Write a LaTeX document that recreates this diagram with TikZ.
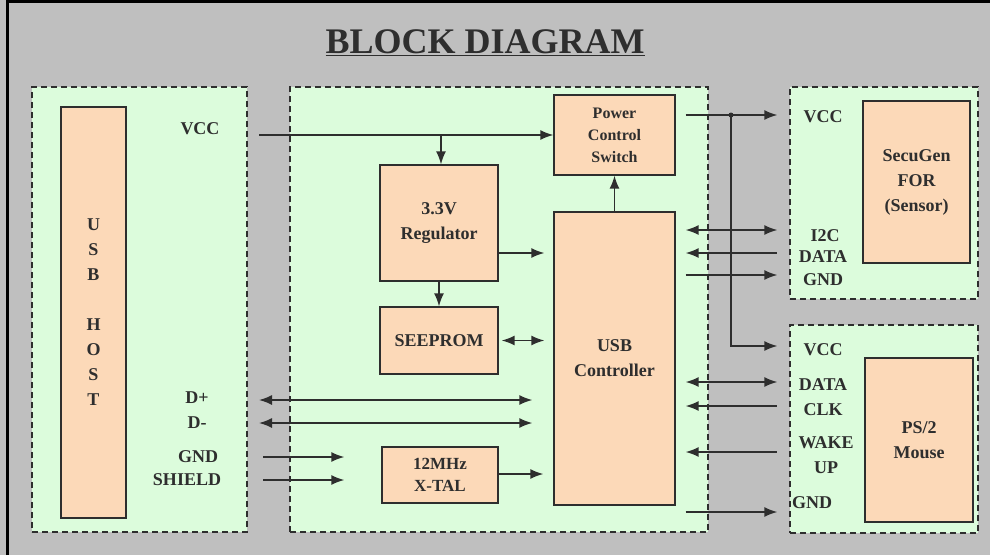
\documentclass[tikz,border=0pt]{standalone}
\usepackage{fontspec}
\setmainfont{Liberation Serif}
\usetikzlibrary{arrows.meta}
\pgfdeclarelayer{bglayer}
\pgfdeclarelayer{edgelayer}
\pgfdeclarelayer{nodelayer}
\pgfsetlayers{bglayer,edgelayer,nodelayer,main}
\definecolor{frame}{HTML}{BFBFBF}
\definecolor{mint}{HTML}{DCFCDC}
\definecolor{peach}{HTML}{FCD9B8}
\definecolor{ink}{HTML}{2E2E2E}
\tikzset{font=\bfseries\fontsize{18}{25}\selectfont, >={Latex[length=13pt,width=10pt]}}
\tikzstyle{none}=[inner sep=0pt, text=ink]
\tikzstyle{panel}=[draw=ink, fill=mint, line width=1.3pt, dash pattern=on 6pt off 4pt, inner sep=0pt]
\tikzstyle{blk}=[draw=ink, fill=peach, line width=1.3pt, align=center, inner sep=0pt, text=ink]
\tikzstyle{sig}=[draw=ink, line width=1.5pt]

\begin{document}
\begin{tikzpicture}[x=1pt, y=-1pt]
	\useasboundingbox (0,0) rectangle (990,555);
	\begin{pgfonlayer}{bglayer}
		\fill[frame] (0,0) rectangle (990,555);
		\draw[black, line width=3pt] (7,555) -- (7,1.5) -- (990,1.5);
		\node [style=panel, minimum width=215pt, minimum height=445pt] (hostp) at (139.5,309.5) {};
		\node [style=panel, minimum width=418pt, minimum height=445pt] (mainp) at (499,309.5) {};
		\node [style=panel, minimum width=188pt, minimum height=212pt] (senp) at (884,193) {};
		\node [style=panel, minimum width=188pt, minimum height=208pt] (msp) at (884,429) {};
	\end{pgfonlayer}
	\begin{pgfonlayer}{nodelayer}
		\node [style=none, anchor=base, font=\bfseries\fontsize{36}{40}\selectfont] (title) at (485,53) {\underline{BLOCK DIAGRAM}};
		% blocks
		\node [style=blk, minimum width=65pt, minimum height=411pt] (host) at (93.5,312.5) {U\\S\\B\\[25pt]H\\O\\S\\T};
		\node [style=blk, minimum width=118pt, minimum height=116pt] (reg) at (439,223) {3.3V\\Regulator};
		\node [style=blk, minimum width=118pt, minimum height=67pt] (eep) at (439,340.5) {SEEPROM};
		\node [style=blk, minimum width=116pt, minimum height=56pt, font=\bfseries\fontsize{17}{22}\selectfont] (xtal) at (440,475) {12MHz\\X-TAL};
		\node [style=blk, minimum width=121pt, minimum height=80pt, font=\bfseries\fontsize{16}{22}\selectfont] (pcs) at (614.5,135) {Power\\Control\\Switch};
		\node [style=blk, minimum width=121pt, minimum height=293pt] (ctrl) at (614.5,358.5) {USB\\Controller};
		\node [style=blk, minimum width=107pt, minimum height=162pt] (sensor) at (916.5,182) {SecuGen\\FOR\\(Sensor)};
		\node [style=blk, minimum width=108pt, minimum height=164pt] (mouse) at (919,440) {PS/2\\Mouse};
		% pin labels
		\node [style=none] (hvcc) at (200,129) {VCC};
		\node [style=none] (hdp) at (197,398) {D+};
		\node [style=none] (hdm) at (197,423) {D-};
		\node [style=none] (hgnd) at (198,457) {GND};
		\node [style=none] (hshd) at (187,480) {SHIELD};
		\node [style=none] (svcc) at (823,117) {VCC};
		\node [style=none] (si2c) at (825,236) {I2C};
		\node [style=none] (sdat) at (823,257) {DATA};
		\node [style=none] (sgnd) at (823,280) {GND};
		\node [style=none] (mvcc) at (823,350) {VCC};
		\node [style=none] (mdat) at (823,385) {DATA};
		\node [style=none] (mclk) at (823,410) {CLK};
		\node [style=none] (mwak) at (826,443) {WAKE};
		\node [style=none] (mup) at (826,468) {UP};
		\node [style=none] (mgnd) at (812,503) {GND};
	\end{pgfonlayer}
	\begin{pgfonlayer}{edgelayer}
		\coordinate (vccin) at (259,135);
		\coordinate (tap) at (441,135);
		\coordinate (dpin) at (259,400);
		\coordinate (dmin) at (259,423);
		\coordinate (gndin) at (263,457);
		\coordinate (shdin) at (263,480);
		\coordinate (jn) at (731,115);
		\draw[style=sig, ->] (vccin) -- (pcs.west);
		\draw[style=sig, ->] (tap) -- (tap |- reg.north);
		\draw[style=sig, ->] (reg.south) -- (eep.north);
		\draw[style=sig, ->] (ctrl.north) -- (pcs.south);
		\draw[style=sig, ->, shorten >=9pt] (reg.east |- 0,253) -- (ctrl.west |- 0,253);
		\draw[style=sig, <->, shorten <=3pt, shorten >=9pt] (eep.east) -- (ctrl.west |- eep.east);
		\draw[style=sig, <->, shorten >=21pt] (dpin) -- (ctrl.west |- dpin);
		\draw[style=sig, <->, shorten >=21pt] (dmin) -- (ctrl.west |- dmin);
		\draw[style=sig, ->, shorten >=37pt] (gndin) -- (xtal.west |- gndin);
		\draw[style=sig, ->, shorten >=37pt] (shdin) -- (xtal.west |- shdin);
		\draw[style=sig, ->, shorten >=10pt] (xtal.east |- 0,474) -- (ctrl.west |- 0,474);
		% to sensor
		\draw[style=sig, ->, shorten <=10pt, shorten >=12pt] (pcs.east |- jn) -- (senp.west |- jn);
		\fill[ink] (jn) circle (2.5pt);
		\draw[style=sig, ->, shorten >=12pt] (jn) |- (msp.west |- 0,346);
		\draw[style=sig, <->, shorten <=10pt, shorten >=12pt] (ctrl.east |- 0,230) -- (senp.west |- 0,230);
		\draw[style=sig, <-, shorten <=10pt, shorten >=12pt] (ctrl.east |- 0,253) -- (senp.west |- 0,253);
		\draw[style=sig, ->, shorten <=10pt, shorten >=12pt] (ctrl.east |- 0,275) -- (senp.west |- 0,275);
		% to mouse
		\draw[style=sig, <->, shorten <=10pt, shorten >=12pt] (ctrl.east |- 0,382) -- (msp.west |- 0,382);
		\draw[style=sig, <-, shorten <=10pt, shorten >=12pt] (ctrl.east |- 0,406) -- (msp.west |- 0,406);
		\draw[style=sig, <-, shorten <=10pt, shorten >=12pt] (ctrl.east |- 0,452) -- (msp.west |- 0,452);
		\draw[style=sig, ->, shorten <=10pt, shorten >=12pt] (ctrl.east |- 0,512) -- (msp.west |- 0,512);
	\end{pgfonlayer}
\end{tikzpicture}
\end{document}
